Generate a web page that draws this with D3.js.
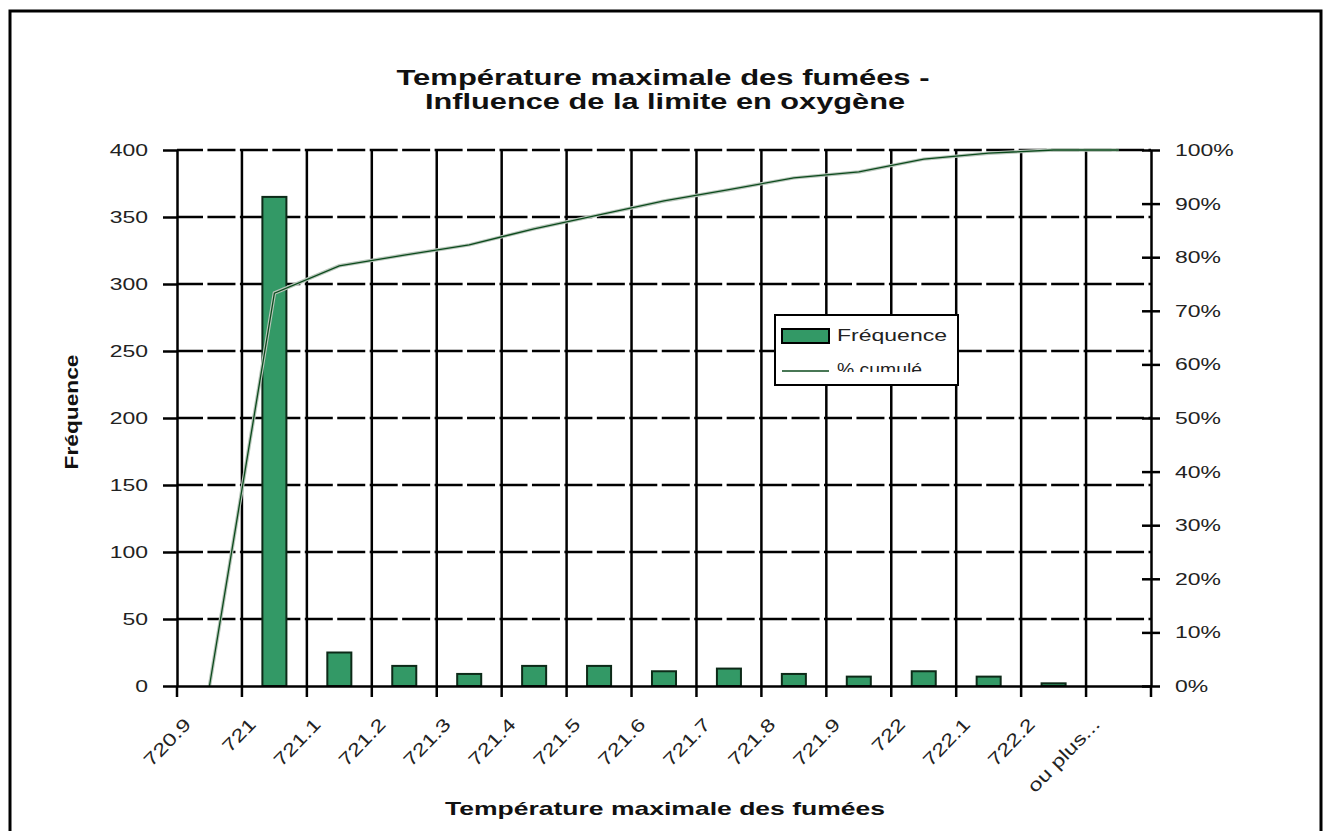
<!DOCTYPE html>
<html>
<head>
<meta charset="utf-8">
<script src="https://cdn.jsdelivr.net/npm/d3@7"></script>
<style>
  body { margin: 0; background: #fff; }
  text { font-family: "Liberation Sans", Arial, sans-serif; }
</style>
</head>
<body>
<div id="chart"></div>
<script>
// data
const categories = ["720.9", "721", "721.1", "721.2", "721.3", "721.4", "721.5", "721.6",
                    "721.7", "721.8", "721.9", "722", "722.1", "722.2", "ou plus..."];
const frequencies = [0, 365, 25, 15, 9, 15, 15, 11, 13, 9, 7, 11, 7, 2, 0];
const cumulPct = [0, 73.3, 78.4, 80.4, 82.3, 85.3, 87.9, 90.5, 92.6, 94.8, 95.9, 98.3, 99.4, 100, 100];
const freqTicks = [0, 50, 100, 150, 200, 250, 300, 350, 400];
const pctTicks = [0, 10, 20, 30, 40, 50, 60, 70, 80, 90, 100];

const W = 1326, H = 831;
const plotL = 177, plotR = 1151, plotT = 150, plotB = 686;
const stretch = 1.35;

const svg = d3.select("#chart").append("svg")
    .attr("width", W)
    .attr("height", H);

svg.append("rect").attr("width", W).attr("height", H).attr("fill", "#fff");

// frame
svg.append("path")
    .attr("d", `M10,${H + 20} V11 H1321 V${H + 20}`)
    .attr("fill", "none")
    .attr("stroke", "#000")
    .attr("stroke-width", 3);

const x = d3.scaleBand().domain(categories).range([plotL, plotR]);
const bw = x.bandwidth();
const yL = d3.scaleLinear().domain([0, 400]).range([plotB, plotT]);
const yR = d3.scaleLinear().domain([0, 100]).range([plotB, plotT]);

// widen a text along its run, the picture is stretched
function widen(sel, k) {
    sel.each(function () {
        const len = this.getComputedTextLength();
        d3.select(this).attr("textLength", len * (k || stretch)).attr("lengthAdjust", "spacingAndGlyphs");
    });
}

// horizontal dashed gridlines
svg.append("g").selectAll("line")
    .data(freqTicks.filter(d => d > 0))
    .enter().append("line")
    .attr("x1", plotL).attr("x2", plotR)
    .attr("y1", d => yL(d)).attr("y2", d => yL(d))
    .attr("stroke", "#000")
    .attr("stroke-width", 2.5)
    .attr("stroke-dasharray", "28,4.45")
    .attr("stroke-dashoffset", 2);

// vertical gridlines at category boundaries
const bounds = categories.slice(1).map(c => x(c));
svg.append("g").selectAll("line")
    .data(bounds)
    .enter().append("line")
    .attr("x1", d => d).attr("x2", d => d)
    .attr("y1", plotT).attr("y2", plotB)
    .attr("stroke", "#000")
    .attr("stroke-width", 2.5);

// bars
svg.append("g").selectAll("rect")
    .data(frequencies)
    .enter().append("rect")
    .attr("x", (d, i) => x(categories[i]) + bw * 0.315)
    .attr("width", bw * 0.37)
    .attr("y", d => yL(d))
    .attr("height", d => yL(0) - yL(d))
    .attr("fill", "#339966")
    .attr("stroke", "#0d2a18")
    .attr("stroke-width", 2);

// cumulative line
const line = d3.line()
    .x((d, i) => x(categories[i]) + bw / 2)
    .y(d => yR(d));

svg.append("path")
    .datum(cumulPct)
    .attr("d", line)
    .attr("fill", "none")
    .attr("stroke", "#b9c6bb")
    .attr("stroke-width", 3.5);

svg.append("path")
    .datum(cumulPct)
    .attr("d", line)
    .attr("fill", "none")
    .attr("stroke", "#0b4a1c")
    .attr("stroke-width", 1.3);

// left axis
const axL = svg.append("g")
    .attr("transform", `translate(${plotL},0)`)
    .call(d3.axisLeft(yL).tickValues(freqTicks).tickSize(14).tickSizeOuter(0).tickPadding(15));
axL.select(".domain").attr("stroke-width", 2.5);
axL.selectAll(".tick line").attr("stroke-width", 2.5);
axL.selectAll("text").attr("font-size", 17).attr("fill", "#222").call(widen);

// right axis
const axR = svg.append("g")
    .attr("transform", `translate(${plotR},0)`)
    .call(d3.axisRight(yR).tickValues(pctTicks).tickFormat(d => d + "%").tickSize(9).tickSizeOuter(0).tickPadding(15));
axR.select(".domain").attr("stroke-width", 2.5);
axR.selectAll(".tick line").attr("x1", -9).attr("stroke-width", 2.5);
axR.selectAll("text").attr("font-size", 17).attr("fill", "#222").call(widen);

// bottom axis
const axB = svg.append("g")
    .attr("transform", `translate(0,${plotB})`)
    .call(d3.axisBottom(x).tickSize(0).tickFormat(""));
axB.select(".domain").attr("stroke-width", 2.5);
axB.selectAll(".tick").remove();

axB.selectAll(".btick")
    .data([plotL].concat(bounds, [plotR]))
    .enter().append("line")
    .attr("class", "btick")
    .attr("x1", d => d).attr("x2", d => d)
    .attr("y1", 0).attr("y2", 11)
    .attr("stroke", "#000")
    .attr("stroke-width", 2.5);

// category labels, slanted
svg.append("g").selectAll("text")
    .data(categories)
    .enter().append("text")
    .attr("transform", d => `translate(${x(d) + bw / 2 - 22},721) rotate(-46)`)
    .attr("text-anchor", "end")
    .attr("dy", "0.35em")
    .attr("font-size", 18)
    .attr("fill", "#222")
    .text(d => d)
    .call(widen, 1.3);

// titles
const title = svg.append("g").attr("font-weight", "bold").attr("text-anchor", "middle").attr("fill", "#111");
title.append("text").attr("x", 663).attr("y", 85).attr("font-size", 22)
    .text("Température maximale des fumées -").attr("textLength", 533).attr("lengthAdjust", "spacingAndGlyphs");
title.append("text").attr("x", 665).attr("y", 109).attr("font-size", 22)
    .text("Influence de la limite en oxygène").attr("textLength", 480).attr("lengthAdjust", "spacingAndGlyphs");
title.append("text").attr("x", 665).attr("y", 815).attr("font-size", 19)
    .text("Température maximale des fumées").attr("textLength", 440).attr("lengthAdjust", "spacingAndGlyphs");
title.append("text").attr("transform", "translate(78,412) rotate(-90)").attr("font-size", 18)
    .text("Fréquence").attr("textLength", 115).attr("lengthAdjust", "spacingAndGlyphs");

// legend
const leg = svg.append("g");
leg.append("rect")
    .attr("x", 775).attr("y", 315).attr("width", 183).attr("height", 70)
    .attr("fill", "#fff").attr("stroke", "#000").attr("stroke-width", 2);

svg.append("defs").append("clipPath").attr("id", "legClip")
    .append("rect").attr("x", 776).attr("y", 316).attr("width", 181).attr("height", 56);

const legIn = leg.append("g").attr("clip-path", "url(#legClip)");
legIn.append("rect")
    .attr("x", 782).attr("y", 329).attr("width", 47).attr("height", 14)
    .attr("fill", "#339966").attr("stroke", "#000").attr("stroke-width", 2);
legIn.append("text").attr("x", 837).attr("y", 341).attr("font-size", 17).attr("fill", "#222")
    .text("Fréquence").attr("textLength", 110).attr("lengthAdjust", "spacingAndGlyphs");
legIn.append("line")
    .attr("x1", 782).attr("x2", 829).attr("y1", 371).attr("y2", 371)
    .attr("stroke", "#0b4a1c").attr("stroke-width", 1.5);
legIn.append("text").attr("x", 837).attr("y", 375).attr("font-size", 17).attr("fill", "#222")
    .text("% cumulé").attr("textLength", 85).attr("lengthAdjust", "spacingAndGlyphs");
</script>
</body>
</html>
